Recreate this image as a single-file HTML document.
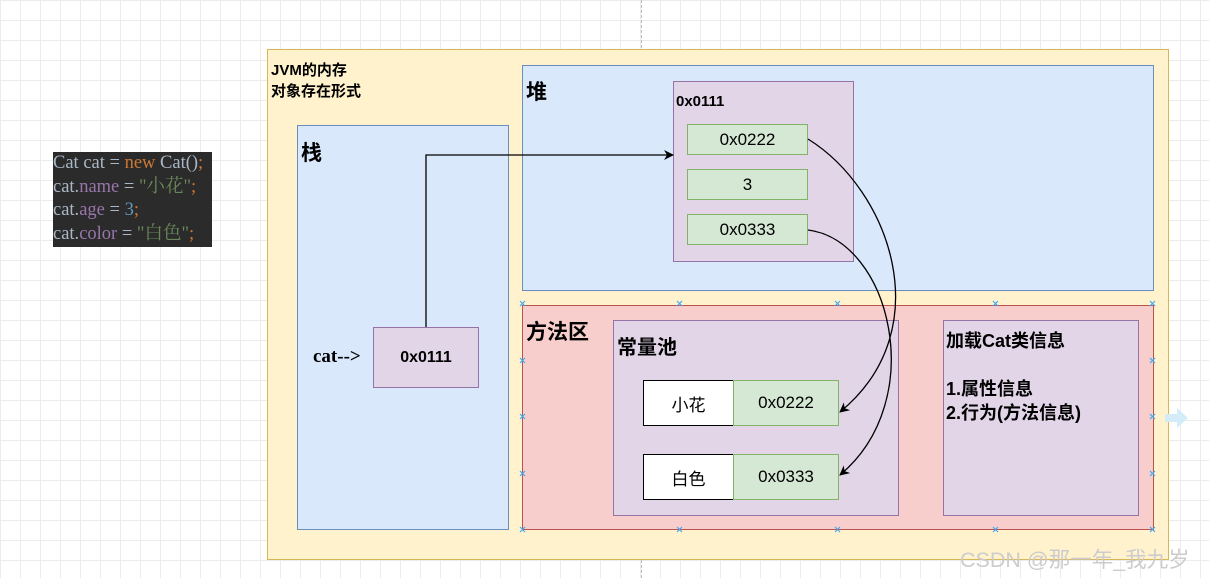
<!DOCTYPE html>
<html><head><meta charset="utf-8"><style>
body{margin:0;width:1209px;height:578px;overflow:hidden;position:relative;background:#fff;
background-image:linear-gradient(#ececec 1px,transparent 1px),linear-gradient(90deg,#ececec 1px,transparent 1px);background-size:20px 20px;
font-family:"Liberation Sans","Noto Sans CJK SC",sans-serif;}
.b{position:absolute;box-sizing:border-box;}
.t{position:absolute;font-weight:bold;color:#000;}
.cell{position:absolute;box-sizing:border-box;display:flex;align-items:center;justify-content:center;font-size:17px;}
.g{background:#d5e8d4;border:1px solid #82b366;}
</style></head><body>
<div class="b" style="left:641px;top:0;width:0;height:578px;border-left:1px dashed #bbb"></div>
<div class="b" style="left:53px;top:152px;width:159px;height:95px;background:#2b2b2b;font-family:'Liberation Serif','Noto Serif CJK SC',serif;font-size:18.5px;line-height:23.5px;color:#a9b7c6;white-space:nowrap;overflow:hidden">
<div>Cat cat = <span style="color:#cc7832">new</span> Cat()<span style="color:#cc7832">;</span></div>
<div>cat.<span style="color:#9876aa">name</span> = <span style="color:#6a8759">"小花"</span><span style="color:#cc7832">;</span></div>
<div>cat.<span style="color:#9876aa">age</span> = <span style="color:#6897bb">3</span><span style="color:#cc7832">;</span></div>
<div>cat.<span style="color:#9876aa">color</span> = <span style="color:#6a8759">"白色"</span><span style="color:#cc7832">;</span></div>
</div>
<div class="b" style="left:267px;top:49px;width:902px;height:511px;background:#fff2cc;border:1px solid #d6b656"></div>
<div class="t" style="left:271px;top:60px;font-size:15px;line-height:21px">JVM的内存<br>对象存在形式</div>
<div class="b" style="left:297px;top:125px;width:212px;height:405px;background:#dae8fc;border:1px solid #6c8ebf"></div>
<div class="t" style="left:301px;top:137px;font-size:21px">栈</div>
<div class="t" style="left:313px;top:346px;font-size:19px;font-family:'Liberation Serif',serif">cat--&gt;</div>
<div class="cell" style="left:373px;top:327px;width:106px;height:61px;background:#e1d5e7;border:1px solid #9673a6;font-weight:bold;font-size:16px">0x0111</div>
<div class="b" style="left:522px;top:65px;width:632px;height:226px;background:#dae8fc;border:1px solid #6c8ebf"></div>
<div class="t" style="left:526px;top:76px;font-size:21px">堆</div>
<div class="b" style="left:673px;top:81px;width:181px;height:181px;background:#e1d5e7;border:1px solid #9673a6"></div>
<div class="t" style="left:676px;top:93px;font-size:15px">0x0111</div>
<div class="cell g" style="left:687px;top:124px;width:121px;height:31px">0x0222</div>
<div class="cell g" style="left:687px;top:169px;width:121px;height:31px">3</div>
<div class="cell g" style="left:687px;top:214px;width:121px;height:31px">0x0333</div>
<div class="b" style="left:522px;top:305px;width:632px;height:225px;background:#f8cecc;border:1px solid #b85450"></div>
<div class="t" style="left:526px;top:316px;font-size:21px">方法区</div>
<div class="b" style="left:613px;top:320px;width:286px;height:196px;background:#e1d5e7;border:1px solid #9673a6"></div>
<div class="t" style="left:617px;top:331px;font-size:20px">常量池</div>
<div class="cell" style="left:643px;top:380px;width:91px;height:46px;background:#fff;border:1px solid #000">小花</div>
<div class="cell g" style="left:733px;top:380px;width:106px;height:46px">0x0222</div>
<div class="cell" style="left:643px;top:454px;width:91px;height:46px;background:#fff;border:1px solid #000">白色</div>
<div class="cell g" style="left:733px;top:454px;width:106px;height:46px">0x0333</div>
<div class="b" style="left:943px;top:320px;width:196px;height:196px;background:#e1d5e7;border:1px solid #9673a6"></div>
<div class="t" style="left:946px;top:329px;font-size:18px;line-height:24px">加载Cat类信息<br><br>1.属性信息<br>2.行为(方法信息)</div>
<svg class="b" style="left:0;top:0" width="1209" height="578">
<defs><marker id="a" markerWidth="10" markerHeight="10" refX="9" refY="5" orient="auto" markerUnits="userSpaceOnUse"><path d="M0,0 L10,5 L0,10 L3,5z" fill="#000"/></marker></defs>
<g fill="none" stroke="#000" stroke-width="1.3">
<path d="M426,327 V155 H673" marker-end="url(#a)"/>
<path d="M808,139 C890,190 940,330 840,412" marker-end="url(#a)"/>
<path d="M808,230 C890,240 930,400 840,475" marker-end="url(#a)"/>
</g>
<g stroke="#3fa9f5" stroke-width="1.2">
<path d="M520,301l5,5m0-5l-5,5M677,301l5,5m0-5l-5,5M835,301l5,5m0-5l-5,5M993,301l5,5m0-5l-5,5M1150,301l5,5m0-5l-5,5
M520,358l5,5m0-5l-5,5M1150,358l5,5m0-5l-5,5M520,414l5,5m0-5l-5,5M1150,414l5,5m0-5l-5,5M520,471l5,5m0-5l-5,5M1150,471l5,5m0-5l-5,5
M520,527l5,5m0-5l-5,5M677,527l5,5m0-5l-5,5M835,527l5,5m0-5l-5,5M993,527l5,5m0-5l-5,5M1150,527l5,5m0-5l-5,5"/>
</g>
<path d="M1165,414h12v-6l11,10l-11,10v-6h-12z" fill="#d4ecf8"/>
<text x="960" y="567" font-size="21.5" fill="#ccc" font-family="Liberation Sans,Noto Sans CJK SC,sans-serif">CSDN @那一年_我九岁</text>
</svg>
</body></html>
